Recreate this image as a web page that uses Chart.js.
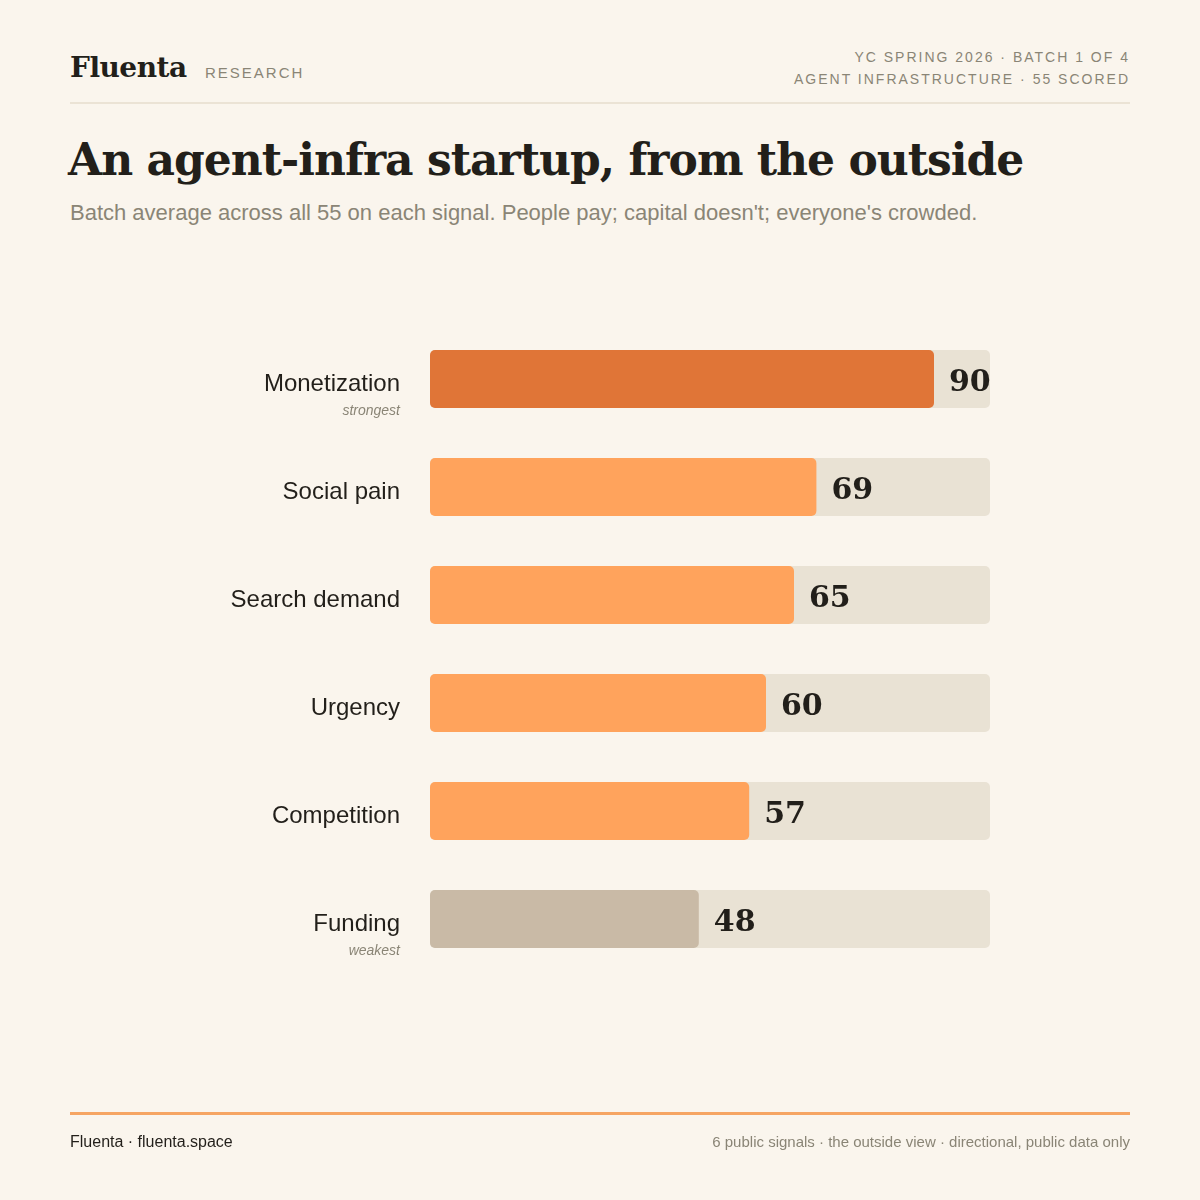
<!DOCTYPE html>
<html>
<head>
<meta charset="utf-8">
<script src="https://cdn.jsdelivr.net/npm/chart.js@4"></script>
<style>
  html, body { margin: 0; padding: 0; }
  body { width: 1200px; height: 1200px; background: #faf5ed; position: relative; overflow: hidden; font-family: "Liberation Sans", Arial, sans-serif; }
  .abs { position: absolute; white-space: nowrap; }
  #brand { left: 70px; top: 51px; font-family: "DejaVu Serif", serif; font-weight: bold; font-size: 28px; color: #221f1a; letter-spacing: -0.5px; }
  #research { left: 205px; top: 64px; font-size: 15px; letter-spacing: 2px; color: #8a8576; }
  #meta { right: 70px; top: 46px; text-align: right; font-size: 14px; letter-spacing: 2px; color: #8a8576; line-height: 22px; }
  #rule1 { left: 70px; top: 102px; width: 1060px; height: 2px; background: #ebe3d5; }
  #title { left: 68px; top: 134px; font-family: "DejaVu Serif", serif; font-weight: bold; font-size: 44px; color: #221f1a; letter-spacing: -1px; }
  #subtitle { left: 70px; top: 200px; font-size: 22px; color: #8a8576; }
  #rule2 { left: 70px; top: 1112px; width: 1060px; height: 3px; background: #f6a563; }
  #footL { left: 70px; top: 1133px; font-size: 16px; color: #221f1a; }
  #footR { right: 70px; top: 1133px; font-size: 15px; color: #8a8576; }
  #chartWrap { position: absolute; left: 0; top: 0; width: 1200px; height: 1200px; }
</style>
</head>
<body>
<div class="abs" id="brand">Fluenta</div>
<div class="abs" id="research">RESEARCH</div>
<div class="abs" id="meta">YC SPRING 2026 · BATCH 1 OF 4<br>AGENT INFRASTRUCTURE · 55 SCORED</div>
<div class="abs" id="rule1"></div>
<div class="abs" id="title">An agent-infra startup, from the outside</div>
<div class="abs" id="subtitle">Batch average across all 55 on each signal. People pay; capital doesn't; everyone's crowded.</div>
<div id="chartWrap"><canvas id="c" width="1200" height="1200"></canvas></div>
<div class="abs" id="rule2"></div>
<div class="abs" id="footL">Fluenta · fluenta.space</div>
<div class="abs" id="footR">6 public signals · the outside view · directional, public data only</div>
<script>
const categories = ["Monetization", "Social pain", "Search demand", "Urgency", "Competition", "Funding"];
const scores = [90, 69, 65, 60, 57, 48];
const notes = ["strongest", "", "", "", "", "weakest"];
const trackMax = [100, 100, 100, 100, 100, 100];
const barColors = ["#e07537", "#ffa35c", "#ffa35c", "#ffa35c", "#ffa35c", "#c9baa6"];

const sideText = {
  id: 'sideText',
  afterDatasetsDraw(chart) {
    const ctx = chart.ctx;
    const y = chart.scales.y;
    const x = chart.scales.x;
    ctx.save();
    scores.forEach((v, i) => {
      const py = y.getPixelForValue(i);
      const px = x.getPixelForValue(v);
      ctx.font = 'bold 30px "DejaVu Serif", serif';
      ctx.fillStyle = '#221f1a';
      ctx.textAlign = 'left';
      ctx.textBaseline = 'middle';
      ctx.fillText(String(v), px + 15, py + 4);
      if (notes[i]) {
        ctx.font = 'italic 14px "Liberation Sans", Arial, sans-serif';
        ctx.fillStyle = '#8a8576';
        ctx.textAlign = 'right';
        ctx.fillText(notes[i], 400, py + 32);
      }
    });
    ctx.restore();
  }
};

new Chart(document.getElementById('c'), {
  type: 'bar',
  data: {
    labels: categories,
    datasets: [
      {
        data: scores,
        backgroundColor: barColors,
        borderRadius: 5,
        borderSkipped: false,
        barPercentage: 0.537,
        categoryPercentage: 1,
        order: 0
      },
      {
        data: trackMax,
        backgroundColor: '#e9e2d4',
        borderRadius: 5,
        borderSkipped: false,
        barPercentage: 0.537,
        categoryPercentage: 1,
        order: 1
      }
    ]
  },
  options: {
    indexAxis: 'y',
    responsive: false,
    animation: false,
    devicePixelRatio: 1,
    layout: { padding: { left: 0, right: 210, top: 325, bottom: 227 } },
    plugins: { legend: { display: false }, tooltip: { enabled: false } },
    datasets: { bar: { grouped: false } },
    scales: {
      x: { display: false, min: 0, max: 100 },
      y: {
        grid: { display: false, drawTicks: false },
        border: { display: false },
        afterFit(scale) { scale.width = 430; },
        ticks: {
          padding: 30,
          labelOffset: 5,
          color: '#221f1a',
          font: { family: '"Liberation Sans", Arial, sans-serif', size: 24 }
        }
      }
    }
  },
  plugins: [sideText]
});
</script>
</body>
</html>
